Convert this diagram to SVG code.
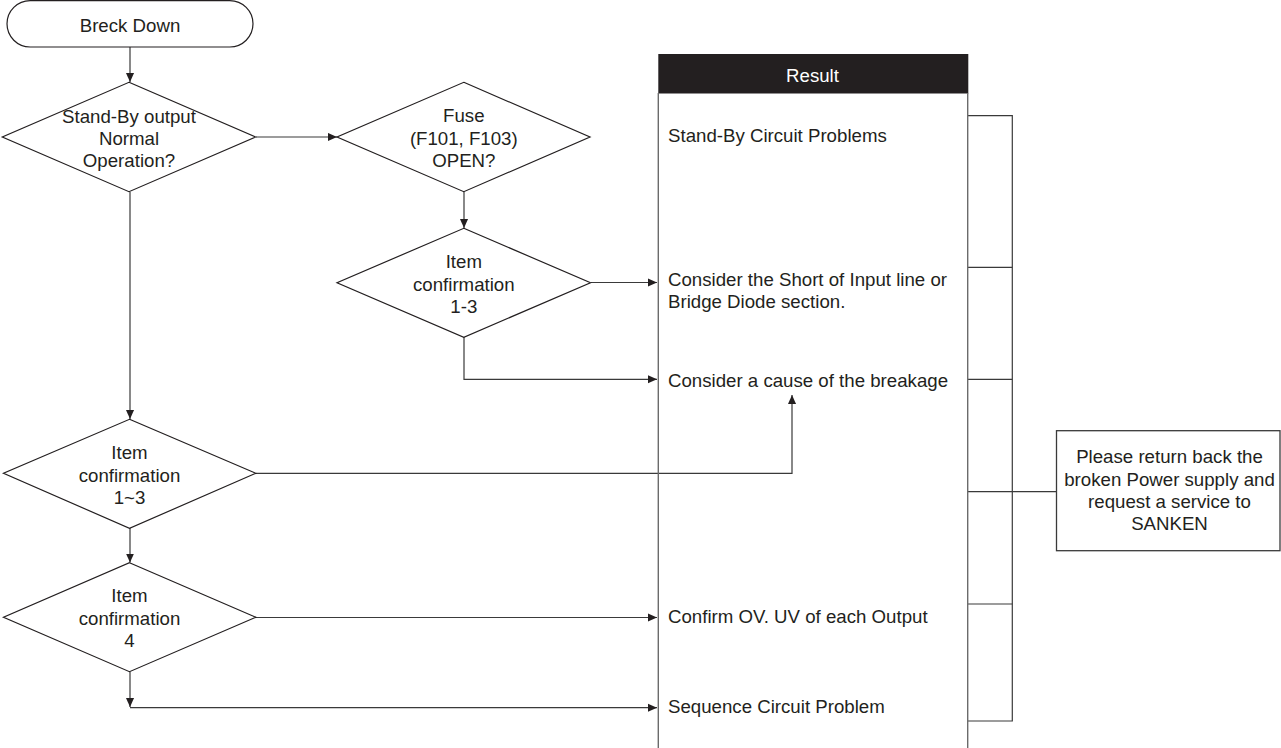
<svg xmlns="http://www.w3.org/2000/svg" width="1281" height="748" viewBox="0 0 1281 748">
<defs>
<style>
text{font-family:"Liberation Sans",Arial,sans-serif;font-size:18.67px;fill:#231f20}
.c{text-anchor:middle}
.shape{fill:#fff;stroke:#231f20;stroke-width:1.2}
.ln{fill:none;stroke:#3a3a3a;stroke-width:1.2}
.gl{fill:none;stroke:#6b6b6b;stroke-width:1.4}
</style>
<marker id="ah" viewBox="0 0 10 10" refX="10" refY="5" markerWidth="9" markerHeight="9" markerUnits="userSpaceOnUse" orient="auto">
<path d="M0,0.5 L10,5 L0,9.5 Z" fill="#231f20"/>
</marker>
</defs>
<rect width="1281" height="748" fill="#fff"/>

<g id="connectors">
<line class="ln" x1="130" y1="47" x2="130" y2="82" marker-end="url(#ah)"/>
<line class="ln" x1="256" y1="137" x2="337" y2="137" marker-end="url(#ah)"/>
<line class="ln" x1="464" y1="192" x2="464" y2="228" marker-end="url(#ah)"/>
<line class="ln" x1="591" y1="282.5" x2="657" y2="282.5" marker-end="url(#ah)"/>
<polyline class="ln" points="464,337 464,379.3 657,379.3" marker-end="url(#ah)"/>
<line class="ln" x1="130" y1="192" x2="130" y2="419" marker-end="url(#ah)"/>
<polyline class="ln" points="256,473.3 792,473.3 792,395" marker-end="url(#ah)"/>
<line class="ln" x1="130" y1="528" x2="130" y2="562.5" marker-end="url(#ah)"/>
<line class="ln" x1="256" y1="617.5" x2="657" y2="617.5" marker-end="url(#ah)"/>
<line class="ln" x1="130" y1="672" x2="130" y2="707" marker-end="url(#ah)"/>
<line class="ln" x1="130" y1="707.7" x2="657" y2="707.7" marker-end="url(#ah)"/>
<!-- bracket -->
<polyline class="ln" points="968,115.7 1012.3,115.7 1012.3,721 967,721"/>
<line class="ln" x1="968" y1="267.3" x2="1012.3" y2="267.3"/>
<line class="ln" x1="968" y1="379.3" x2="1012.3" y2="379.3"/>
<line class="ln" x1="968" y1="491.7" x2="1056.5" y2="491.7"/>
<line class="ln" x1="968" y1="604" x2="1012.3" y2="604"/>
</g>

<g id="start">
<rect class="shape" x="7" y="0.6" width="246" height="46.4" rx="23.2"/>
<text class="c" x="130" y="32">Breck Down</text>
</g>

<g id="d-standby">
<polygon class="shape" points="129,82.3 255.6,137 129,191.7 2.3,137"/>
<text class="c" x="129" y="122.7">Stand-By output</text>
<text class="c" x="129" y="145.2">Normal</text>
<text class="c" x="129" y="167.2">Operation?</text>
</g>

<g id="d-fuse">
<polygon class="shape" points="463.8,82.3 590,137 463.8,191.7 337,137"/>
<text class="c" x="463.8" y="122.2">Fuse</text>
<text class="c" x="463.8" y="145.2">(F101, F103)</text>
<text class="c" x="463.8" y="167.2">OPEN?</text>
</g>

<g id="d-item13">
<polygon class="shape" points="463.8,228.3 590.5,282.7 463.8,337.3 337,282.7"/>
<text class="c" x="463.8" y="268.3">Item</text>
<text class="c" x="463.8" y="290.8">confirmation</text>
<text class="c" x="463.8" y="313.3">1-3</text>
</g>

<g id="d-item1to3">
<polygon class="shape" points="129.5,419.3 255.8,473.3 129.5,528.3 3.5,473.3"/>
<text class="c" x="129.5" y="459.3">Item</text>
<text class="c" x="129.5" y="481.5">confirmation</text>
<text class="c" x="129.5" y="503.5">1~3</text>
</g>

<g id="d-item4">
<polygon class="shape" points="129.5,562.7 255.8,617.3 129.5,671.7 3.5,617.3"/>
<text class="c" x="129.5" y="602">Item</text>
<text class="c" x="129.5" y="624.8">confirmation</text>
<text class="c" x="129.5" y="646.8">4</text>
</g>

<g id="result">
<rect x="658.3" y="54" width="310" height="39.5" fill="#231f20"/>
<text class="c" x="812.5" y="81.5" style="fill:#fff">Result</text>
<line class="gl" x1="658.3" y1="93" x2="658.3" y2="748"/>
<line class="gl" x1="967.7" y1="93" x2="967.7" y2="748"/>
<text x="668" y="141.7">Stand-By Circuit Problems</text>
<text x="668" y="286">Consider the Short of Input line or</text>
<text x="668" y="308.3">Bridge Diode section.</text>
<text x="668" y="386.8">Consider a cause of the breakage</text>
<text x="668" y="623.3">Confirm OV. UV of each Output</text>
<text x="668" y="712.8">Sequence Circuit Problem</text>
</g>

<g id="return-box">
<rect x="1056.5" y="430.7" width="223.5" height="120" fill="#fff" stroke="#3a3a3a" stroke-width="1.3"/>
<text class="c" x="1169.5" y="462.7">Please return back the</text>
<text class="c" x="1169.5" y="486">broken Power supply and</text>
<text class="c" x="1169.5" y="508.3">request a service to</text>
<text class="c" x="1169.5" y="530">SANKEN</text>
</g>
</svg>
